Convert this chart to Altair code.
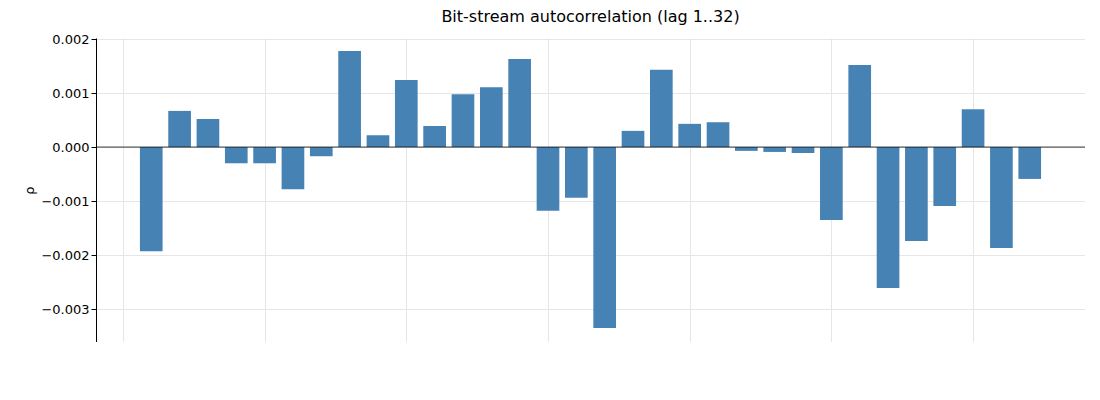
import altair as alt
import pandas as pd

lags = list(range(1, 33))
rho = [-0.00193, 0.00067, 0.00052, -0.00030, -0.00030, -0.00078, -0.00017, 0.00178,
       0.00022, 0.00124, 0.00039, 0.00098, 0.00111, 0.00163, -0.00118, -0.00094,
       -0.00335, 0.00030, 0.00143, 0.00043, 0.00046, -0.00007, -0.00009, -0.00011,
       -0.00135, 0.00152, -0.00261, -0.00174, -0.00109, 0.00070, -0.00187, -0.00059]

df = pd.DataFrame({"lag": lags, "rho": rho})
df["x0"] = df["lag"] - 0.4
df["x1"] = df["lag"] + 0.4

font = "DejaVu Sans"
xs = alt.Scale(domain=[-0.95, 33.95], nice=False, zero=False)
ys = alt.Scale(domain=[-0.00361, 0.00202], nice=False)

bars = alt.Chart(df).mark_rect(color="#4682b4").encode(
    x=alt.X("x0:Q", scale=xs, title="lag (bits)",
            axis=alt.Axis(values=[0, 5, 10, 15, 20, 25, 30], format="d")),
    x2="x1:Q",
    y=alt.Y("rho:Q", scale=ys, title="ρ",
            axis=alt.Axis(values=[-0.003, -0.002, -0.001, 0, 0.001, 0.002], format=".3f")),
    y2=alt.datum(0),
)

zero = alt.Chart(pd.DataFrame({"y": [0]})).mark_rule(color="black", strokeWidth=0.8).encode(
    y=alt.Y("y:Q", scale=ys)
)

chart = (bars + zero).properties(
    width=989, height=304,
    title=alt.TitleParams("Bit-stream autocorrelation (lag 1..32)", fontSize=16,
                          font=font, fontWeight="normal", color="black", offset=8),
    autosize=alt.AutoSizeParams(type="none"),
    padding={"left": 88, "top": 30, "right": 0, "bottom": 0},
).configure_axis(
    labelFont=font, titleFont=font, labelFontSize=13, titleFontSize=13,
    titleFontWeight="normal", labelColor="black", titleColor="black",
    gridColor="#e6e6e6", domainColor="black", tickColor="black",
).configure_view(stroke=None)

chart.save("out.html", embed_options={"renderer": "svg", "actions": False})
